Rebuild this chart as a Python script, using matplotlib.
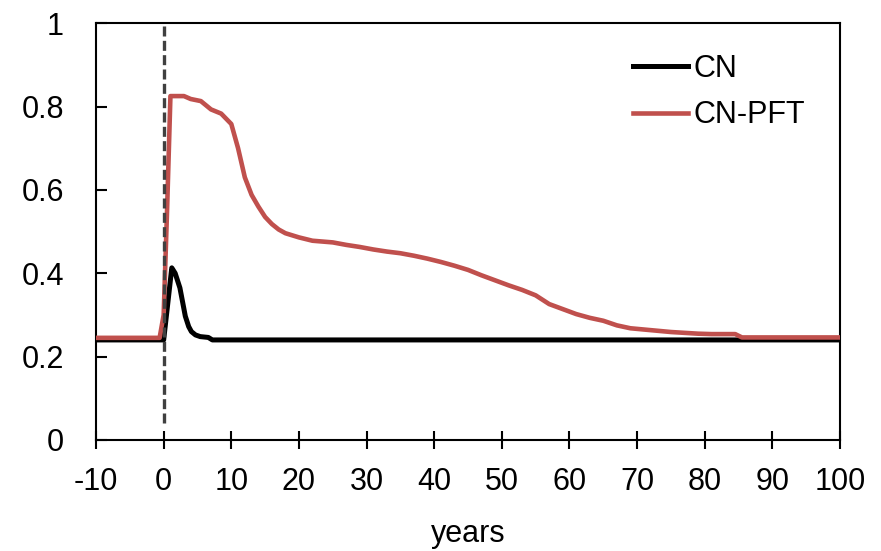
import matplotlib
matplotlib.use("Agg")
import matplotlib.pyplot as plt

plt.rcParams["font.family"] = ["Liberation Sans", "DejaVu Sans"]

# CN response (years relative to disturbance, fraction)
cn_years = [-10, 0, 1.2, 1.7, 2.4, 3.2, 3.7, 4.1, 4.7, 5.4, 6.6, 7.2, 100]
cn_values = [0.24, 0.24, 0.413, 0.40, 0.365, 0.297, 0.272, 0.26, 0.252,
             0.248, 0.246, 0.24, 0.24]

# CN-PFT response
pft_years = [-10, -0.6, 0, 0.5, 1, 3, 4, 5.5, 7, 8.5, 10, 11, 12, 13, 14, 15,
             16, 17, 18, 20, 22, 25, 27, 29, 31, 33, 35, 37, 39, 41, 43, 45,
             47, 49, 51, 53, 55, 57, 59, 61, 63, 65, 67, 69, 71, 73, 75, 77,
             79, 81, 84.5, 85.5, 100]
pft_values = [0.245, 0.245, 0.30, 0.55, 0.825, 0.825, 0.818, 0.813, 0.793,
              0.783, 0.758, 0.70, 0.63, 0.588, 0.56, 0.535, 0.518, 0.505,
              0.496, 0.486, 0.478, 0.474, 0.468, 0.463, 0.457, 0.452, 0.448,
              0.442, 0.435, 0.427, 0.418, 0.408, 0.395, 0.383, 0.371, 0.36,
              0.347, 0.326, 0.314, 0.302, 0.293, 0.286, 0.275, 0.268, 0.265,
              0.262, 0.259, 0.257, 0.255, 0.254, 0.254, 0.246, 0.246]

x_ticks = [-10, 0, 10, 20, 30, 40, 50, 60, 70, 80, 90, 100]
x_tick_labels = ["-10", "0", "10", "20", "30", "40", "50", "60", "70", "80", "90", "100"]
y_ticks = [0, 0.2, 0.4, 0.6, 0.8, 1.0]
y_tick_labels = ["0", "0.2", "0.4", "0.6", "0.8", "1"]

fig = plt.figure(figsize=(8.81, 5.51), dpi=100)
ax = fig.add_axes([0.109, 0.2015, 0.8445, 0.7565])

cn_line, = ax.plot(cn_years, cn_values, color="black", lw=3.6,
                   solid_joinstyle="round", label="CN", zorder=3)
pft_line, = ax.plot(pft_years, pft_values, color="#C0504D", lw=3.3,
                    solid_joinstyle="round", label="CN-PFT", zorder=4)
ax.plot([0, 0], [0.04, 1.0], color="#404040", lw=2.4,
        linestyle=(0, (3, 1.3)), zorder=5)

ax.set_xlim(-10, 100)
ax.set_ylim(0, 1)
ax.set_xticks(x_ticks)
ax.set_xticklabels(x_tick_labels)
ax.set_yticks(y_ticks)
ax.set_yticklabels(y_tick_labels)

ax.tick_params(axis="x", direction="inout", length=13, width=1.5,
               labelsize=22, pad=13)
ax.tick_params(axis="y", direction="in", length=8, width=1.5,
               labelsize=22, pad=23)
for sp in ax.spines.values():
    sp.set_linewidth(1.5)

ax.set_xlabel("years", fontsize=22, labelpad=16)

ax.legend(handles=[cn_line, pft_line], loc="upper left",
          bbox_to_anchor=(0.685, 0.993), frameon=False, fontsize=22,
          handlelength=1.8, handletextpad=0.16, labelspacing=0.55)

fig.savefig("out.png", dpi=100)
